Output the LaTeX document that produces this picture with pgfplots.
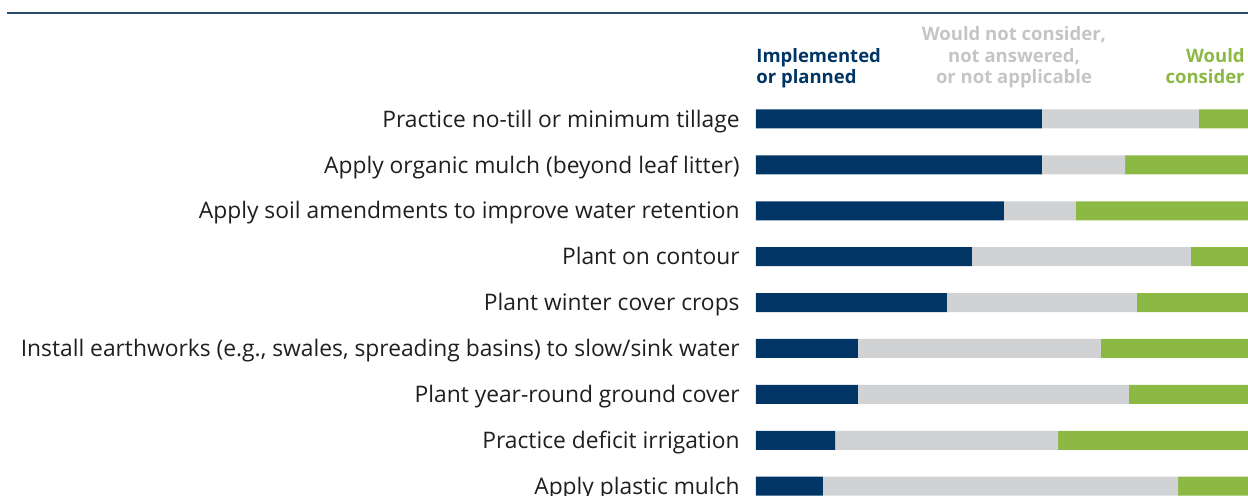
\documentclass[border=0pt]{standalone}
\usepackage{fontspec}
\setmainfont{Open Sans}
\usepackage{pgfplots}
\pgfplotsset{compat=1.18}
\usepackage{pgfplotstable}
\definecolor{navy}{HTML}{003566}
\definecolor{lightgray}{HTML}{D1D2D4}
\definecolor{headgray}{HTML}{C4C5C7}
\definecolor{leaf}{HTML}{8CB844}
\definecolor{rule}{HTML}{2B4A70}

% implemented / not considered etc. / would consider (percent)
\pgfplotstableread{
row impl other would
1 58.1 31.9 10.0
2 58.1 16.9 25.0
3 50.4 14.6 35.0
4 43.9 44.5 11.6
5 38.8 38.6 22.6
6 20.7 49.4 29.9
7 20.7 55.1 24.2
8 16.1 45.3 38.6
9 13.6 72.2 14.2
}\practices

\begin{document}
\begin{tikzpicture}
\begin{axis}[
    at={(378pt,-48pt)}, anchor=north west,
    x=2.46pt, y=22.95pt,
    xmin=0, xmax=100,
    ymin=0.5, ymax=9.5,
    y dir=reverse,
    xbar stacked,
    bar width=9.5pt,
    clip=false,
    axis line style={draw=none},
    major tick length=0pt,
    xtick=\empty,
    ytick={1,...,9},
    yticklabels={
        Practice no-till or minimum tillage,
        Apply organic mulch (beyond leaf litter),
        Apply soil amendments to improve water retention,
        Plant on contour,
        Plant winter cover crops,
        {Install earthworks (e.g., swales, spreading basins) to slow/sink water},
        Plant year-round ground cover,
        Practice deficit irrigation,
        Apply plastic mulch},
    yticklabel style={font=\fontsize{11.4}{13}\selectfont, inner sep=0pt,
        text height=10pt, text depth=1.8pt, xshift=-8pt, text=black!88},
]
\addplot[fill=navy, draw=none] table[x=impl, y=row] {\practices};
\addplot[fill=lightgray, draw=none] table[x=other, y=row] {\practices};
\addplot[fill=leaf, draw=none] table[x=would, y=row] {\practices};
\end{axis}

\draw[rule, line width=1pt] (3.5pt,-6.3pt) -- (624pt,-6.3pt);

\begin{scope}[every node/.style={inner sep=0pt, font=\fontsize{9.25}{11}\selectfont\bfseries}]
\node[anchor=base west, text=navy] at (378pt,-31.5pt) {Implemented};
\node[anchor=base west, text=navy] at (378pt,-42pt) {or planned};
\node[anchor=base, text=headgray] at (507pt,-20.2pt) {Would not consider,};
\node[anchor=base, text=headgray] at (507pt,-31.3pt) {not answered,};
\node[anchor=base, text=headgray] at (507pt,-42pt) {or not applicable};
\node[anchor=base east, text=leaf] at (622.5pt,-31.5pt) {Would};
\node[anchor=base east, text=leaf] at (622.5pt,-42pt) {consider};
\end{scope}

\pgfresetboundingbox
\path (0pt,0pt) rectangle (624pt,-248pt);
\end{tikzpicture}
\end{document}
